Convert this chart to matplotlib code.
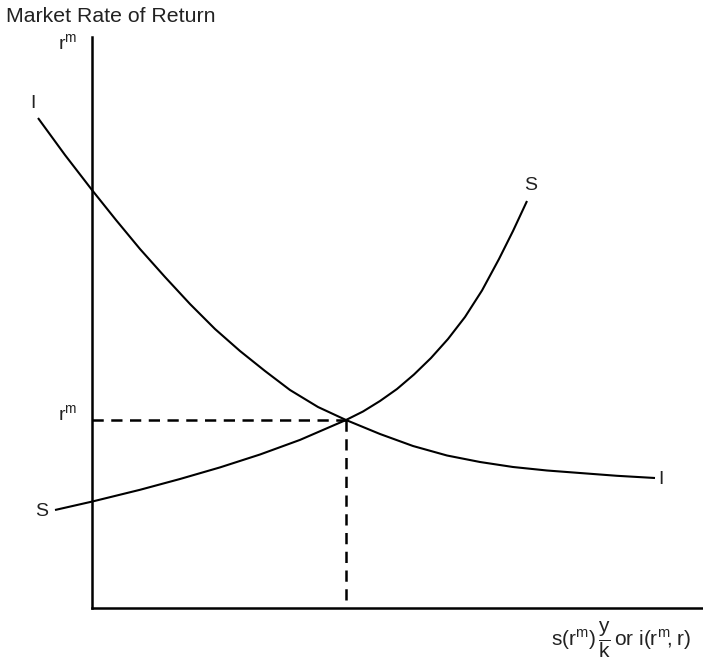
import matplotlib
matplotlib.use("Agg")
import matplotlib.pyplot as plt

plt.rcParams['font.family'] = ['Liberation Sans', 'DejaVu Sans']
plt.rcParams['mathtext.fontset'] = 'custom'
plt.rcParams['mathtext.rm'] = 'Liberation Sans'
plt.rcParams['mathtext.it'] = 'Liberation Sans'
plt.rcParams['mathtext.sf'] = 'Liberation Sans'

# Investment curve I (quantity, market rate of return)
inv_x = [-54, -27, 0, 24, 48, 73, 98, 123, 148, 173, 198, 226, 254,
         288, 321, 355, 388, 421, 455, 488, 525, 563]
inv_y = [490, 453, 418, 388, 359, 331, 304, 279, 257, 237, 218, 201, 188,
         174, 162, 152.5, 146, 141, 137.5, 135, 132.2, 130]

# Saving curve S
sav_x = [-37, 0, 48, 88, 128, 168, 208, 254, 271, 288, 305, 322, 339,
         356, 373, 390, 407, 421, 435]
sav_y = [98, 106.4, 118.2, 129, 140.6, 153.5, 168.1, 188, 196.5, 207, 219,
         233.5, 250, 269, 291, 317.5, 349, 377, 407]

# Equilibrium
eq_x = 254
eq_y = 188

# Axis extents
x_axis_end = 611
y_axis_end = 571

fig = plt.figure(figsize=(7.03, 6.63), dpi=100)
ax = fig.add_axes([0, 0, 1, 1])
ax.set_xlim(-92, 611)
ax.set_ylim(-55, 608)

for s in ['top', 'right']:
    ax.spines[s].set_visible(False)
ax.spines['left'].set_position(('data', 0))
ax.spines['bottom'].set_position(('data', 0))
ax.spines['left'].set_bounds(0, y_axis_end)
ax.spines['bottom'].set_bounds(0, x_axis_end)
ax.spines['left'].set_linewidth(1.8)
ax.spines['bottom'].set_linewidth(1.8)
ax.set_xticks([])
ax.set_yticks([])
ax.patch.set_alpha(0)

ax.plot(inv_x, inv_y, color='black', lw=1.5, solid_capstyle='butt', solid_joinstyle='round')
ax.plot(sav_x, sav_y, color='black', lw=1.5, solid_capstyle='butt', solid_joinstyle='round')

ax.plot([0, eq_x], [eq_y, eq_y], color='black', lw=1.8, linestyle=(0, (4.5, 3)))
ax.plot([eq_x, eq_x], [eq_y, 0], color='black', lw=1.8, linestyle=(0, (4.5, 3)))

tc = '#222222'
ax.text(-86, 592, 'Market Rate of Return', fontsize=15.3, ha='left', va='center', color=tc)
ax.text(-24, 565, r'$\mathrm{r^m}$', fontsize=14, ha='center', va='center', color=tc)
ax.text(-24, 194, r'$\mathrm{r^m}$', fontsize=14, ha='center', va='center', color=tc)
ax.text(-59, 505, 'I', fontsize=14, ha='center', va='center', color=tc)
ax.text(439, 423, 'S', fontsize=14, ha='center', va='center', color=tc)
ax.text(-50, 96, 'S', fontsize=14, ha='center', va='center', color=tc)
ax.text(569, 128, 'I', fontsize=14, ha='center', va='center', color=tc)
ax.text(529, -32, r'$\mathrm{s(r^m)\,\dfrac{y}{k}\,or\ i(r^m\!,r)}$', fontsize=15,
        ha='center', va='center', color=tc)

fig.savefig('out.png', dpi=100)
